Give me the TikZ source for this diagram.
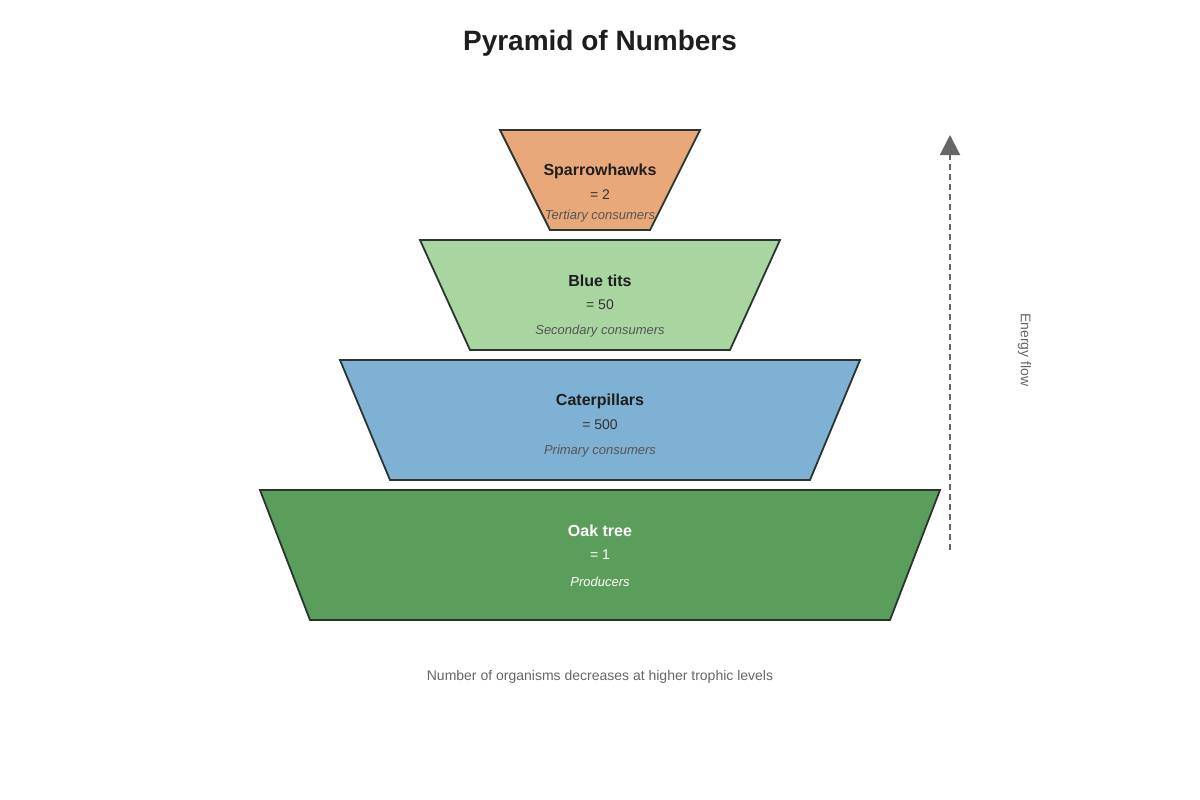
\documentclass[tikz,border=0pt]{standalone}
\usepackage{fontspec}
\setmainfont{Liberation Sans}
\usetikzlibrary{arrows.meta}
\definecolor{cOrange}{HTML}{E9A87A}
\definecolor{cLight}{HTML}{A9D5A1}
\definecolor{cBlue}{HTML}{7EB1D4}
\definecolor{cGreen}{HTML}{5B9E5B}
\definecolor{cEdge}{HTML}{2B3530}
\definecolor{cDark}{HTML}{1E1E1E}
\definecolor{cVal}{HTML}{333333}
\definecolor{cSub}{HTML}{555555}
\definecolor{cGrey}{HTML}{666666}
\tikzset{
  tier/.style={draw=cEdge, line width=1.8pt, line join=miter},
  tname/.style={font=\fontsize{16}{19}\selectfont\bfseries, text=cDark, anchor=center, inner sep=0pt},
  tval/.style={font=\fontsize{14}{17}\selectfont, text=cVal, anchor=center, inner sep=0pt},
  tsub/.style={font=\fontsize{13}{16}\selectfont\itshape, text=cSub, anchor=center, inner sep=0pt},
}
\begin{document}
\begin{tikzpicture}[x=1pt,y=-1pt]
\useasboundingbox (0,0) rectangle (1200,800);
\fill[white] (0,0) rectangle (1200,800);
\node[font=\fontsize{28}{32}\selectfont\bfseries, text=cDark, inner sep=0pt] (title) at (600,43) {Pyramid of Numbers};
% tiers
\draw[tier, fill=cOrange] (500,130) -- (700,130) -- (650,230) -- (550,230) -- cycle;
\draw[tier, fill=cLight] (420,240) -- (780,240) -- (730,350) -- (470,350) -- cycle;
\draw[tier, fill=cBlue] (340,360) -- (860,360) -- (810,480) -- (390,480) -- cycle;
\draw[tier, fill=cGreen] (260,490) -- (940,490) -- (890,620) -- (310,620) -- cycle;
% labels
\node[tname] (n1) at (600,171) {Sparrowhawks};
\node[tval] (v1) at (600,194.5) {= 2};
\node[tsub] (s1) at (600,216.5) {Tertiary consumers};
\node[tname] (n2) at (600,281) {Blue tits};
\node[tval] (v2) at (600,304.5) {= 50};
\node[tsub] (s2) at (600,331.5) {Secondary consumers};
\node[tname] (n3) at (600,401) {Caterpillars};
\node[tval] (v3) at (600,424.5) {= 500};
\node[tsub] (s3) at (600,451.5) {Primary consumers};
\node[tname, text=white] (n4) at (600,531) {Oak tree};
\node[tval, text=white] (v4) at (600,554.5) {= 1};
\node[tsub, text=white] (s4) at (600,581.5) {Producers};
% caption
\node[font=\fontsize{14}{17}\selectfont, text=cGrey, inner sep=0pt] (cap) at (600,676.5) {Number of organisms decreases at higher trophic levels};
% energy arrow
\coordinate (eb) at (950,550);
\coordinate (et) at (950,135);
\draw[cGrey, line width=2pt, dash pattern=on 6pt off 4pt, -{Triangle[width=20pt,length=20pt]}] (eb) -- (et);
\node[font=\fontsize{14}{17}\selectfont, text=cGrey, rotate=-90, inner sep=0pt] (ef) at (1024.5,350) {Energy flow};
\end{tikzpicture}
\end{document}
